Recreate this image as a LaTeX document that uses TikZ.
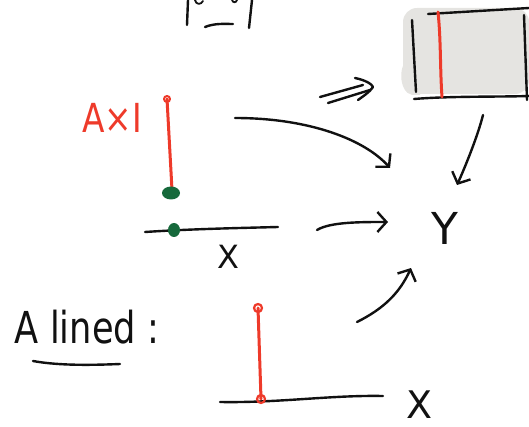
\documentclass[tikz,border=0pt]{standalone}
\usepackage{fontspec}
\setmainfont{DejaVu Sans}
\usetikzlibrary{arrows.meta}
\definecolor{pen}{HTML}{111111}
\definecolor{redpen}{HTML}{EE3A2A}
\definecolor{greenpen}{HTML}{16693B}
\definecolor{boxgray}{HTML}{E5E4E1}
\begin{document}
\begin{tikzpicture}[x=1pt,y=-1pt,
  ink/.style={draw=pen,line width=2.4pt,line cap=round,line join=round},
  redink/.style={draw=redpen,line width=3pt,line cap=round,line join=round},
  barb/.style={-{Straight Barb[length=9pt,width=20pt,line width=2.4pt]}},
  hand/.style={inner sep=0pt,text=pen}]
\useasboundingbox (0,0) rectangle (529,427);
% partial strokes at the top edge
\draw[ink] (188,0) -- (187,25);
\draw[ink,line width=1.8pt] (195,0) .. controls (196,5) and (201,5) .. (203,1);
\draw[ink] (205,27) .. controls (215,23) and (225,24) .. (233,24);
\draw[ink,line width=1.8pt] (232,0) .. controls (233,3) and (236,3) .. (237,0);
\draw[ink] (252,0) -- (249,28);
% texts
\node[hand,text=redpen] (axi) at (112,118) {\scalebox{0.82}[1]{\fontsize{40}{40}\selectfont A×I}};
\node[hand] (x1) at (228,257) {\fontsize{32}{32}\selectfont X};
\node[hand] (y) at (445,228) {\fontsize{44}{44}\selectfont Y};
\node[hand] (x2) at (420,405) {\fontsize{38}{38}\selectfont X};
\node[hand] (lbl) at (87,327) {\scalebox{0.8}[1]{\fontsize{44}{44}\selectfont A lined :}};
\draw[ink] (33,361) .. controls (60,366) and (95,365) .. (120,364);
% upper red segment with green end
\coordinate (rtop) at (167,99);
\coordinate (rbot) at (172,190);
\draw[redink] (rtop) -- (rbot);
\draw[redink,line width=2pt] (rtop) circle (3);
\fill[greenpen] (171,193) ellipse (9 and 6.5);
% upper x axis
\coordinate (a1l) at (145,232);
\coordinate (a1r) at (278,227);
\draw[ink] (a1l) .. controls (190,229) and (240,228) .. (a1r);
\fill[greenpen] (174,230) ellipse (6 and 7);
% box
\fill[boxgray,rounded corners=14pt] (403,8) rectangle (529,94);
\fill[boxgray] (412,95) .. controls (398,92) and (398,62) .. (410,58) -- (420,58) -- (420,95) -- cycle;
\draw[ink] (412,20) -- (416,92);
\draw[ink] (428,14) -- (529,8);
\draw[ink] (414,99) .. controls (450,96) and (500,97) .. (529,96);
\draw[ink] (524,15) -- (527,100);
\draw[redink] (438,12) .. controls (441,40) and (440,70) .. (442,97);
\coordinate (boxb) at (483,115);
% arrows
\coordinate (dblS) at (320,97);
\coordinate (dblE) at (370,90);
\draw[ink] (dblS) -- (363,85);
\draw[ink] (328,103) -- (dblE);
\draw[ink] (355,78) .. controls (365,80) and (372,84) .. (373,87) .. controls (370,92) and (362,97) .. (358,100);
\coordinate (c1s) at (235,118);
\coordinate (c1e) at (390,168);
\draw[ink,barb] (c1s) .. controls (310,118) and (365,140) .. (c1e);
\coordinate (c2s) at (317,230);
\coordinate (c2e) at (388,222);
\draw[ink,barb] (c2s) .. controls (330,222) and (360,222) .. (c2e);
\coordinate (c3s) at (357,322);
\coordinate (c3e) at (411,268);
\draw[ink,barb] (c3s) .. controls (385,308) and (400,292) .. (c3e);
\coordinate (c4e) at (457,185);
\draw[ink,barb] (boxb) .. controls (478,135) and (466,165) .. (c4e);
% lower red segment and axis
\coordinate (a2l) at (220,402);
\coordinate (a2r) at (383,396);
\draw[ink] (a2l) .. controls (280,403) and (330,395) .. (a2r);
\coordinate (r2top) at (258,308);
\coordinate (r2bot) at (261,399);
\draw[redink] (r2top) -- (r2bot);
\draw[redink,line width=2.2pt] (r2top) circle (4);
\draw[redink,line width=2.2pt] (r2bot) circle (4);
\end{tikzpicture}
\end{document}
